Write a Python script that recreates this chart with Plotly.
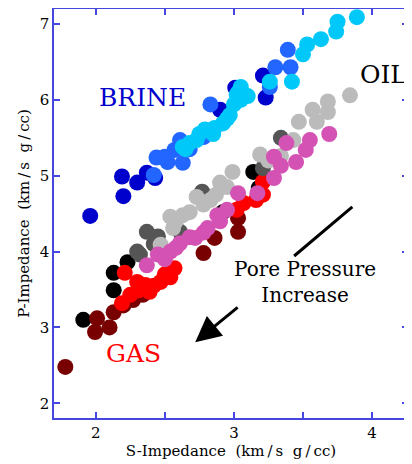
import plotly.graph_objects as go

# ---- data (S-Impedance, P-Impedance) ----
brine_low_x = [1.96, 2.19, 2.20, 2.30, 2.37, 2.43, 2.90, 3.01, 3.21, 3.23]
brine_low_y = [4.47, 4.99, 4.73, 4.91, 5.04, 4.97, 5.87, 6.16, 6.32, 6.03]

brine_mid_x = [2.42, 2.44, 2.50, 2.52, 2.57, 2.63, 2.61, 2.68, 2.78, 2.83, 3.26, 3.30, 3.41, 3.39]
brine_mid_y = [5.01, 5.24, 5.25, 5.18, 5.34, 5.17, 5.47, 5.35, 5.51, 5.94, 6.17, 6.43, 6.43, 6.66]

brine_high_x = [2.63, 2.65, 2.68, 2.73, 2.75, 2.79, 2.85, 2.86, 2.92, 2.95, 2.97, 3.00, 3.02,
                3.03, 3.05, 3.05, 3.10, 3.26, 3.42, 3.50, 3.53, 3.63, 3.74, 3.75, 3.89]
brine_high_y = [5.38, 5.35, 5.43, 5.47, 5.55, 5.61, 5.55, 5.63, 5.69, 5.75, 5.80, 5.94, 6.07,
                6.10, 6.17, 6.00, 6.05, 6.24, 6.24, 6.60, 6.73, 6.80, 6.90, 7.03, 7.09]

oil_black_x = [1.91, 2.13, 2.13, 2.23, 2.92, 3.14, 3.18]
oil_black_y = [3.10, 3.72, 3.49, 3.86, 4.52, 5.05, 4.84]

gas_maroon_x = [1.78, 1.995, 2.01, 2.10, 2.13, 2.20, 2.27, 2.34, 2.78, 2.86, 3.03, 3.03]
gas_maroon_y = [2.48, 2.94, 3.12, 3.00, 3.20, 3.29, 3.36, 3.43, 3.98, 4.18, 4.26, 4.44]

gas_red_x = [2.21, 2.19, 2.25, 2.30, 2.31, 2.36, 2.39, 2.42, 2.47, 2.50, 2.54, 2.57,
             3.02, 3.07, 3.16, 3.21, 3.21]
gas_red_y = [3.72, 3.32, 3.43, 3.60, 3.49, 3.56, 3.47, 3.55, 3.60, 3.70, 3.66, 3.78,
             4.55, 4.64, 4.68, 4.92, 4.75]

oil_dgray_x = [2.30, 2.32, 2.37, 2.42, 2.45, 2.61, 2.77, 3.21, 3.34]
oil_dgray_y = [4.00, 3.96, 4.26, 4.10, 4.20, 4.26, 4.79, 5.10, 5.50]

oil_lgray_x = [2.47, 2.54, 2.56, 2.58, 2.63, 2.68, 2.73, 2.78, 2.83, 2.87, 2.90, 2.95, 2.99,
               3.19, 3.25, 3.34, 3.43, 3.47, 3.57, 3.60, 3.68, 3.68, 3.84]
oil_lgray_y = [4.09, 4.46, 4.31, 4.40, 4.48, 4.52, 4.72, 4.62, 4.68, 4.75, 4.91, 4.85, 5.05,
               5.28, 5.20, 5.26, 5.47, 5.71, 5.87, 5.71, 5.98, 5.84, 6.06]

oil_magenta_x = [2.37, 2.45, 2.50, 2.54, 2.58, 2.61, 2.68, 2.72, 2.78, 2.81, 2.88, 2.90,
                 2.95, 3.03, 3.17, 3.29, 3.29, 3.34, 3.38, 3.45, 3.52, 3.55, 3.69]
oil_magenta_y = [3.82, 3.96, 3.90, 4.00, 4.05, 4.11, 4.19, 4.18, 4.25, 4.31, 4.48, 4.40,
                 4.55, 4.77, 4.77, 4.97, 5.25, 5.13, 5.43, 5.18, 5.34, 5.47, 5.55]

x_tick_vals = [1.5, 2, 2.5, 3, 3.5, 4]
x_tick_text = ["", "2", "", "3", "", "4"]
y_tick_vals = [2, 3, 4, 5, 6, 7]

x_range = [1.698, 4.26]
y_range = [1.806, 7.198]

series = [
    (brine_low_x, brine_low_y, "#0000cc"),
    (brine_mid_x, brine_mid_y, "#2266ff"),
    (brine_high_x, brine_high_y, "#00c8f8"),
    (oil_black_x, oil_black_y, "#000000"),
    (gas_maroon_x, gas_maroon_y, "#780000"),
    (gas_red_x, gas_red_y, "#ff0000"),
    (oil_dgray_x, oil_dgray_y, "#555555"),
    (oil_lgray_x, oil_lgray_y, "#bbbbbb"),
    (oil_magenta_x, oil_magenta_y, "#d452b3"),
]

fig = go.Figure()
for xs, ys, col in series:
    fig.add_trace(go.Scatter(x=xs, y=ys, mode="markers",
                             marker=dict(size=16, color=col, line=dict(width=0)),
                             showlegend=False, hoverinfo="skip"))

font_family = "DejaVu Serif"

# labels
label_pos = {
    "BRINE": (2.335, 6.03, "#0000cc", 25),
    "OIL": (4.08, 6.33, "#000000", 25),
    "GAS": (2.27, 2.65, "#ff0000", 25),
    "Pore Pressure<br>Increase": (3.515, 3.60, "#000000", 20),
}
for txt, (lx, ly, col, fs) in label_pos.items():
    fig.add_annotation(x=lx, y=ly, text=txt, showarrow=False,
                       font=dict(family=font_family, size=fs, color=col))

# arrows
line_seg = (3.857, 4.589, 3.436, 3.942)
arrow_seg = (3.038, 3.281, 2.72, 2.806)
fig.add_shape(type="line", x0=line_seg[0], y0=line_seg[1], x1=line_seg[2], y1=line_seg[3],
              line=dict(color="black", width=3))
fig.add_annotation(x=arrow_seg[2], y=arrow_seg[3], ax=arrow_seg[0], ay=arrow_seg[1],
                   xref="x", yref="y", axref="x", ayref="y", text="",
                   showarrow=True, arrowhead=2, arrowsize=1.7, arrowwidth=3,
                   arrowcolor="black")

thin = "\u2009"
x_title = f"S-Impedance  (km{thin}/{thin}s  g{thin}/{thin}cc)"
y_title = f"P-Impedance  (km{thin}/{thin}s  g{thin}/{thin}cc)"

axis_col = "#4646e0"
fig.update_xaxes(range=x_range, tickvals=x_tick_vals, ticktext=x_tick_text,
                 ticks="inside", ticklen=6, tickcolor=axis_col, tickwidth=1.5,
                 showline=True, linecolor=axis_col, linewidth=1.5, mirror="ticks",
                 showgrid=False, zeroline=False,
                 tickfont=dict(family=font_family, size=15, color="black"),
                 title=dict(text=x_title, standoff=2,
                            font=dict(family=font_family, size=15, color="black")))
fig.update_yaxes(range=y_range, tickvals=y_tick_vals,
                 ticks="inside", ticklen=6, tickcolor=axis_col, tickwidth=1.5,
                 showline=True, linecolor=axis_col, linewidth=1.5, mirror="ticks",
                 showgrid=False, zeroline=False,
                 tickfont=dict(family=font_family, size=15, color="black"),
                 title=dict(text=y_title, standoff=6,
                            font=dict(family=font_family, size=15, color="black")))

# page body has an 8px default margin; figure sized to fit the window
fig.update_layout(width=404, height=456, margin=dict(l=46, r=4, t=1, b=46, autoexpand=False),
                  plot_bgcolor="white", paper_bgcolor="white")

fig.write_html("out.html")
